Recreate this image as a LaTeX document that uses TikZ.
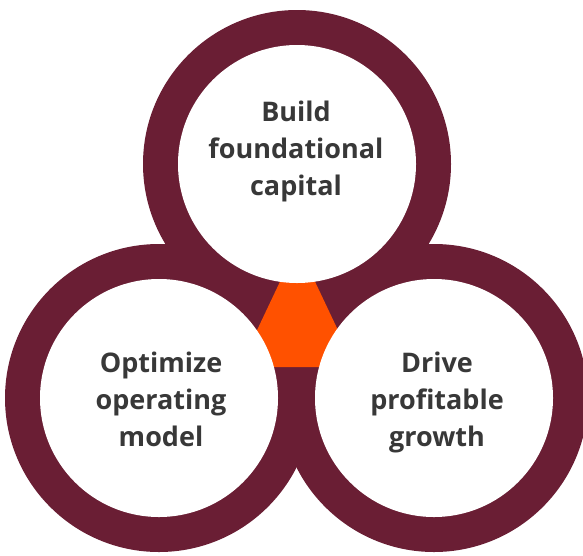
\documentclass[tikz,border=0pt]{standalone}
\usepackage{fontspec}
\setmainfont{Open Sans}
\definecolor{ringc}{HTML}{6A1E34}
\definecolor{hexc}{HTML}{FF5100}
\definecolor{txtc}{HTML}{383838}
\begin{document}
\begin{tikzpicture}[x=1pt,y=-1pt,
  ring/.style={fill=ringc},
  hole/.style={fill=white},
  lbl/.style={anchor=base,inner sep=0pt,text=txtc,font=\fontsize{27}{31}\selectfont\bfseries}]
\useasboundingbox (0,0) rectangle (583,555);
\clip (0,0) rectangle (583,555);
% outer rings
\fill[ring] (297,164) circle (154);
\fill[ring] (159,398) circle (154);
\fill[ring] (434,398) circle (154);
% centre hexagon
\fill[hexc] (285.5,270) -- (309.5,270) -- (345,345) -- (333,367) -- (262,367) -- (250,345) -- cycle;
% white interiors
\fill[hole] (297,164) circle (119);
\fill[hole] (159,398) circle (119);
\fill[hole] (434,398) circle (119);
% labels
\node[lbl] (a1) at (296,121.7) {Build};
\node[lbl] (a2) at (296,158.3) {foundational};
\node[lbl] (a3) at (296,195) {capital};
\node[lbl] (b1) at (161,372.5) {Optimize};
\node[lbl] (b2) at (161,409.5) {operating};
\node[lbl] (b3) at (161,446.5) {model};
\node[lbl] (c1) at (437,372.5) {Drive};
\node[lbl] (c2) at (437,409.5) {profitable};
\node[lbl] (c3) at (437,446.5) {growth};
\end{tikzpicture}
\end{document}
